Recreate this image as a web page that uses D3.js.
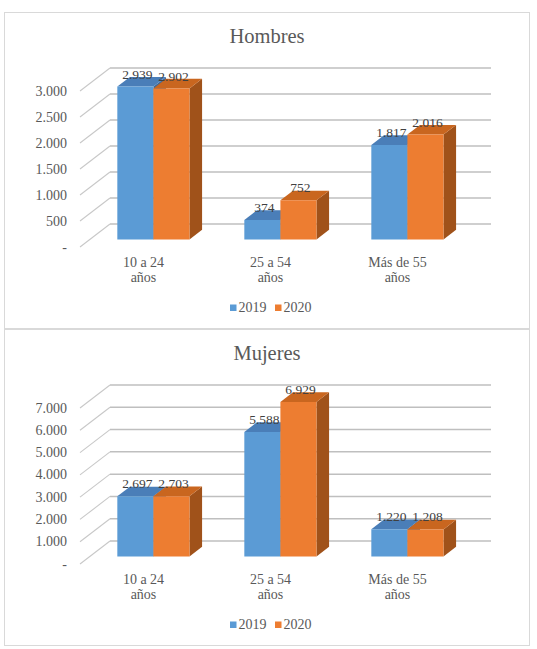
<!DOCTYPE html>
<html>
<head>
<meta charset="utf-8">
<script src="https://cdn.jsdelivr.net/npm/d3@7"></script>
<style>
  body { margin: 0; background: #fff; }
</style>
</head>
<body>
<div id="chart"></div>
<script>
// values
const categories = ["10 a 24 años", "25 a 54 años", "Más de 55 años"];
const years = ["2019", "2020"];
const hombres2019 = [2939, 374, 1817];
const hombres2020 = [2902, 752, 2016];
const mujeres2019 = [2697, 5588, 1220];
const mujeres2020 = [2703, 6929, 1208];
const hombresTicks = [0, 500, 1000, 1500, 2000, 2500, 3000];
const mujeresTicks = [0, 1000, 2000, 3000, 4000, 5000, 6000, 7000];

const width = 537, height = 649;
const serif = "'Times New Roman', Times, 'Liberation Serif', Tinos, 'Noto Serif', 'DejaVu Serif', FreeSerif, 'Nimbus Roman', serif";
const colors = {
    "2019": { front: "#5B9BD5", top: "#4A7EB8", side: "#3E6A99" },
    "2020": { front: "#ED7D31", top: "#C9661F", side: "#A0521A" }
};
const depthX = 30, depthY = 23;   // oblique offset of the full floor depth
const barD0 = 0.33, barD1 = 0.75;  // bar front / back as fraction of depth

const fmt = v => v === 0 ? "-" : d3.format(",")(v).replace(/,/g, ".");

const svg = d3.select("#chart").append("svg")
    .attr("width", width)
    .attr("height", height)
    .style("font-family", serif);

drawPanel(12, "Hombres", hombres2019, hombres2020, hombresTicks);
drawPanel(329, "Mujeres", mujeres2019, mujeres2020, mujeresTicks);

function drawPanel(oy, title, v2019, v2020, ticks) {
    const g = svg.append("g");

    g.append("rect")
        .attr("x", 4.5).attr("y", oy + 0.5)
        .attr("width", 525).attr("height", 316)
        .attr("fill", "#fff")
        .attr("stroke", "#d9d9d9");

    g.append("text")
        .attr("x", 267).attr("y", oy + 31)
        .attr("text-anchor", "middle")
        .style("font-family", serif)
        .attr("font-size", 20.5)
        .attr("fill", "#595959")
        .text(title);

    const x = d3.scaleBand().domain(categories).range([80, 461]);
    const xSub = d3.scaleBand().domain(years).range([0, x.bandwidth()]).paddingOuter(0.76);
    const y = d3.scaleLinear().domain([0, d3.max(ticks)]).range([oy + 235, oy + 79]);

    // projected point: screen x, value, depth fraction
    const P = (sx, v, d) => [sx + d * depthX, y(v) - d * depthY];

    const [x0, x1] = x.range();

    // back wall gridlines
    g.append("g").selectAll("line")
        .data(ticks).join("line")
        .attr("x1", d => P(x0, d, 1)[0]).attr("x2", d => P(x1, d, 1)[0])
        .attr("y1", d => P(x0, d, 1)[1]).attr("y2", d => P(x1, d, 1)[1])
        .attr("stroke", "#bfbfbf").attr("stroke-width", 1.5);

    // side wall gridlines
    g.append("g").selectAll("line")
        .data(ticks).join("line")
        .attr("x1", d => P(x0, d, 0)[0]).attr("x2", d => P(x0, d, 1)[0])
        .attr("y1", d => P(x0, d, 0)[1]).attr("y2", d => P(x0, d, 1)[1])
        .attr("stroke", "#c8c8c8").attr("stroke-width", 1.1);

    // y tick labels
    g.append("g").selectAll("text")
        .data(ticks).join("text")
        .attr("x", 67).attr("y", d => y(d) + 4.5)
        .attr("text-anchor", "end")
        .style("font-family", serif)
        .attr("font-size", 14)
        .attr("fill", "#595959")
        .text(fmt);

    const rows = [];
    categories.forEach((c, i) => {
        rows.push({ cat: c, year: "2019", value: v2019[i] });
        rows.push({ cat: c, year: "2020", value: v2020[i] });
    });

    const poly = pts => pts.map(p => p.join(",")).join(" ");
    const dd = barD1 - barD0;

    const bars = g.append("g").selectAll("g")
        .data(rows).join("g");

    bars.each(function(d) {
        const b = d3.select(this);
        const bx0 = x(d.cat) + xSub(d.year);
        const bx1 = bx0 + xSub.bandwidth();
        const fl = P(bx0, 0, barD0), fr = P(bx1, 0, barD0);
        const tl = P(bx0, d.value, barD0), tr = P(bx1, d.value, barD0);
        const off = [dd * depthX, -dd * depthY];
        const sh = p => [p[0] + off[0], p[1] + off[1]];
        b.append("polygon")
            .attr("points", poly([fr, tr, sh(tr), sh(fr)]))
            .attr("fill", colors[d.year].side);
        b.append("polygon")
            .attr("points", poly([tl, tr, sh(tr), sh(tl)]))
            .attr("fill", colors[d.year].top);
        b.append("polygon")
            .attr("points", poly([fl, fr, tr, tl]))
            .attr("fill", colors[d.year].front);
    });

    // data labels
    g.append("g").selectAll("text")
        .data(rows).join("text")
        .attr("x", d => P(x(d.cat) + xSub(d.year) + xSub.bandwidth() / 2, d.value, barD0)[0] + 2)
        .attr("y", d => P(0, d.value, barD0)[1] - 8)
        .attr("text-anchor", "middle")
        .style("font-family", serif)
        .attr("font-size", 13.5)
        .attr("fill", "#404040")
        .text(d => fmt(d.value));

    // category labels, wrapped on two lines
    const cl = g.append("g").selectAll("text")
        .data(categories).join("text")
        .attr("text-anchor", "middle")
        .style("font-family", serif)
        .attr("font-size", 14)
        .attr("fill", "#595959");
    cl.each(function(c) {
        const t = d3.select(this);
        const cx = x(c) + x.bandwidth() / 2;
        const words = c.split(" ");
        const first = words.slice(0, -1).join(" ");
        const last = words[words.length - 1];
        t.append("tspan").attr("x", cx).attr("y", oy + 255).text(first);
        t.append("tspan").attr("x", cx).attr("y", oy + 270).text(last);
    });

    // legend
    const legendX = [230, 275];
    const lg = g.append("g").selectAll("g")
        .data(years).join("g")
        .attr("transform", (d, i) => `translate(${legendX[i]},${oy + 300})`);
    lg.append("rect")
        .attr("x", 0).attr("y", -7.5)
        .attr("width", 6.5).attr("height", 6.5)
        .attr("fill", d => colors[d].front);
    lg.append("text")
        .attr("x", 8.5).attr("y", 0)
        .style("font-family", serif)
        .attr("font-size", 14)
        .attr("fill", "#595959")
        .text(d => d);
}
</script>
</body>
</html>
